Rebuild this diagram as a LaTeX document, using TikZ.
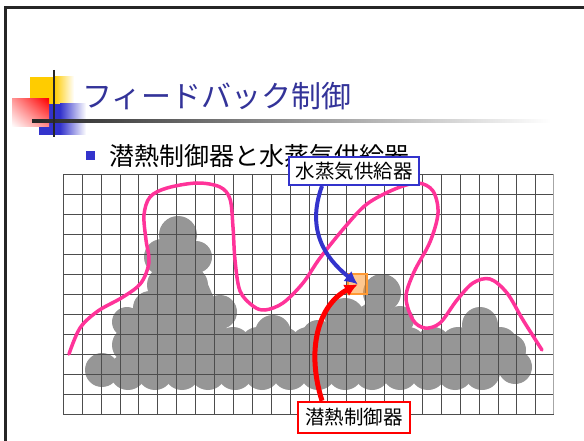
\documentclass[tikz,border=0pt]{standalone}
\usepackage{fontspec}
\newfontfamily\jp{Noto Sans CJK JP}
\usetikzlibrary{arrows.meta,shadings}

\definecolor{titleblue}{HTML}{333399}
\definecolor{markblue}{HTML}{3333CC}
\definecolor{markyellow}{HTML}{FFCC00}
\definecolor{heatred}{HTML}{FF0000}
\definecolor{curvepink}{HTML}{FF3399}
\definecolor{cloudgray}{HTML}{969696}
\definecolor{gridgray}{HTML}{4D4D4D}
\definecolor{cellorange}{HTML}{FF9933}

\begin{document}
\begin{tikzpicture}[
  x=1pt, y=-1pt,
  >=Latex,
  every node/.style={font=\jp},
  tagbox/.style={draw, fill=white, line width=2pt, inner sep=0pt, align=center,
    font=\jp\fontsize{19.5}{22}\selectfont},
  puff/.style={fill=cloudgray},
  gridline/.style={gridgray, line width=1pt},
  front/.style={curvepink, line width=3.5pt, line cap=round},
  feed/.style={line width=4pt, arrows={-Latex[length=13pt, width=13pt]}}
]
\useasboundingbox (0,0) rectangle (584,441);
\fill[white] (0,0) rectangle (584,441);

% slide frame
\draw[black!85, line width=3pt] (5,441) -- (5,7.5) -- (584,7.5);

% title mark
\fill[markyellow] (30,77) rectangle (54,110);
\shade[left color=markyellow, right color=white] (54,77) rectangle (74,110);
\fill[markblue] (39,104) rectangle (60,135);
\shade[left color=markblue, right color=white] (60,104) rectangle (86,135);
\shade[upper left=red!40, upper right=red, lower left=white, lower right=red!45] (12,99) rectangle (49,127);
\shade[left color=black!85, middle color=black!50, right color=white] (32,119.5) rectangle (551,122.5);
\draw[black!85, line width=2pt] (54,70) -- (54,137);

\node[anchor=base west, inner sep=0pt, text=titleblue, font=\jp\fontsize{30}{34}\selectfont]
  (title) at (82,108) {フィードバック制御};

% bullet line
\node[fill=markblue, minimum size=9pt, inner sep=0pt] (dot) at (90.5,155.5) {};
\node[anchor=base west, inner sep=0pt, font=\jp\fontsize{25}{28}\selectfont]
  (point) at (109,165.5) {潜熱制御器と水蒸気供給器};

% cloud: body plus puffs round its rim
\fill[puff] (102,370) -- (128,372) -- (482,372) -- (515,367) -- (510,350) -- (480,325)
  -- (458,345) -- (408,345) -- (382,293) -- (345,318) -- (308,345) -- (273,333)
  -- (233,345) -- (220,312) -- (196,257) -- (178,235) -- (162,257) -- (150,308)
  -- (127,322) -- (130,345) -- cycle;
\foreach \cx/\cy/\r in {178/235/19, 162/257/18, 196/257/16, 166/285/19, 190/285/18,
    150/308/17, 180/310/19, 205/318/18, 220/312/17, 127/322/15,
    273/333/18, 318/336/16, 345/318/20, 382/293/19, 400/320/14, 480/325/18, 510/350/16,
    102/370/17, 515/367/17}
  \fill[puff] (\cx,\cy) circle (\r pt);
\foreach \cx in {130,155,180,205,233,258,283,308,333,358,383,408,433,458,483,500}
  \fill[puff] (\cx,345) circle (18pt);
\foreach \cx in {128,155,182,208,235,262,290,318,345,372,400,428,455,482}
  \fill[puff] (\cx,372) circle (18pt);

% grid
\foreach \i in {0,...,25}
  \draw[gridline] (63.3+18.9*\i,174.3) -- (63.3+18.9*\i,414.3);
\foreach \j in {0,...,12}
  \draw[gridline] (63.3,174.3+20*\j) -- (553.5,174.3+20*\j);
\draw[black!35, line width=1.5pt] (553.5,174.3) -- (553.5,414.3);

% front line
\draw[front] plot[smooth, tension=0.55] coordinates {
  (69,354) (80,328) (98,311) (123,297) (141,283) (149,262) (146,240) (144,215)
  (150,197) (167,188) (197,183) (220,187) (230,199) (233,227) (235,260) (240,291)
  (253,306) (265,310) (283,303) (303,283) (320,258) (345,227) (367,204) (395,189)
  (418,183) (433,191) (438,213) (430,242) (414,272) (406,297) (413,320) (425,328)
  (440,323) (457,300) (473,283) (490,279) (507,293) (523,320) (542,350)};

% controlled cell
\node[draw=cellorange, fill=cellorange, fill opacity=0.55, draw opacity=1,
  line width=2pt, minimum width=18.9pt, minimum height=20pt, inner sep=0pt]
  (cell) at (357.75,284.3) {};

% devices
\node[tagbox, draw=markblue, minimum width=130pt, minimum height=28pt] (vapor) at (354,171) {水蒸気供給器};
\node[tagbox, draw=heatred, line width=2.5pt, minimum width=112pt, minimum height=31pt] (heater) at (354,417.5) {潜熱制御器};

\draw[feed, markblue] ([xshift=-32pt]vapor.south) .. controls (306,230) and (325,258) .. (cell.center);
\draw[feed, heatred, line width=5pt] ([xshift=-32pt]heater.north) .. controls (306,350) and (318,305) .. (cell.center);
\end{tikzpicture}
\end{document}
